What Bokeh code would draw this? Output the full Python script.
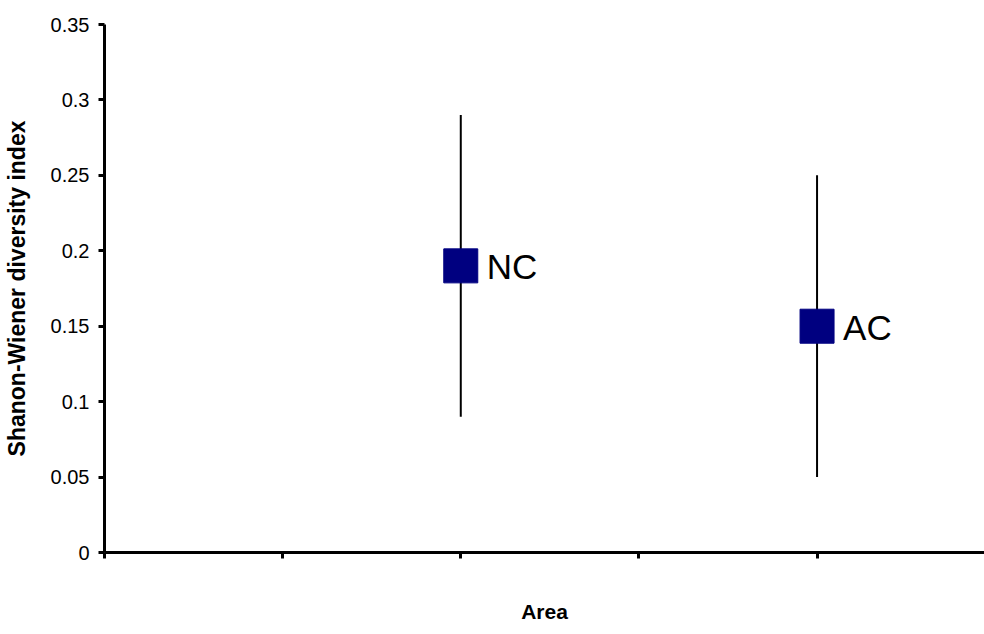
from bokeh.plotting import figure
from bokeh.models import Range1d, FixedTicker
from bokeh.core.properties import value
from bokeh.embed import file_html
from bokeh.resources import INLINE

# Data
areas = ["NC", "AC"]
x_pos = [2, 4]
means = [0.19, 0.15]
lower = [0.09, 0.05]
upper = [0.29, 0.25]
y_ticks = [0, 0.05, 0.1, 0.15, 0.2, 0.25, 0.3, 0.35]
y_tick_labels = ["0", "0.05", "0.1", "0.15", "0.2", "0.25", "0.3", "0.35"]
x_ticks = [0, 1, 2, 3, 4]

FONT = "Liberation Sans"

p = figure(width=984, height=634,
           x_range=Range1d(0, 4.94), y_range=Range1d(0, 0.35),
           output_backend="svg", toolbar_location=None,
           min_border_left=104, min_border_right=0,
           min_border_top=24, min_border_bottom=82)

p.outline_line_color = None
p.xgrid.grid_line_color = None
p.ygrid.grid_line_color = None
p.background_fill_color = "white"
p.border_fill_color = "white"

# y axis
ya = p.yaxis[0]
ya.ticker = FixedTicker(ticks=y_ticks)
ya.major_label_overrides = {t: l for t, l in zip(y_ticks, y_tick_labels)}
ya.axis_line_width = 3
ya.major_tick_line_width = 3
ya.major_tick_out = 6
ya.major_tick_in = 0
ya.minor_tick_out = 0
ya.minor_tick_in = 0
ya.major_label_text_font = FONT
ya.major_label_text_font_size = "20px"
ya.major_label_text_color = "black"
ya.major_label_standoff = 9
ya.axis_label = "Shanon-Wiener diversity index"
ya.axis_label_text_font = FONT
ya.axis_label_text_font_style = "bold"
ya.axis_label_text_font_size = "23px"
ya.axis_label_text_color = "black"
ya.axis_label_standoff = 18

# x axis
xa = p.xaxis[0]
xa.ticker = FixedTicker(ticks=x_ticks)
xa.major_label_overrides = {t: "" for t in x_ticks}
xa.major_label_text_font_size = "1px"
xa.axis_line_width = 3
xa.major_tick_line_width = 3
xa.major_tick_out = 6
xa.major_tick_in = 0
xa.minor_tick_out = 0
xa.minor_tick_in = 0
xa.axis_label = "Area"
xa.axis_label_text_font = FONT
xa.axis_label_text_font_style = "bold"
xa.axis_label_text_font_size = "21px"
xa.axis_label_text_color = "black"
xa.axis_label_standoff = 41

# error bars
p.segment(x0=x_pos, y0=lower, x1=x_pos, y1=upper, line_color="black", line_width=2)

# markers
p.scatter(x=x_pos, y=means, marker="square", size=34,
          fill_color="#000080", line_color="#000080")

# labels
p.text(x=x_pos, y=means, text=areas, x_offset=26, y_offset=1,
       text_baseline="middle", text_align="left",
       text_font=value(FONT), text_font_size="35px", text_color="black")

open("out.html", "w").write(file_html(p, INLINE))
